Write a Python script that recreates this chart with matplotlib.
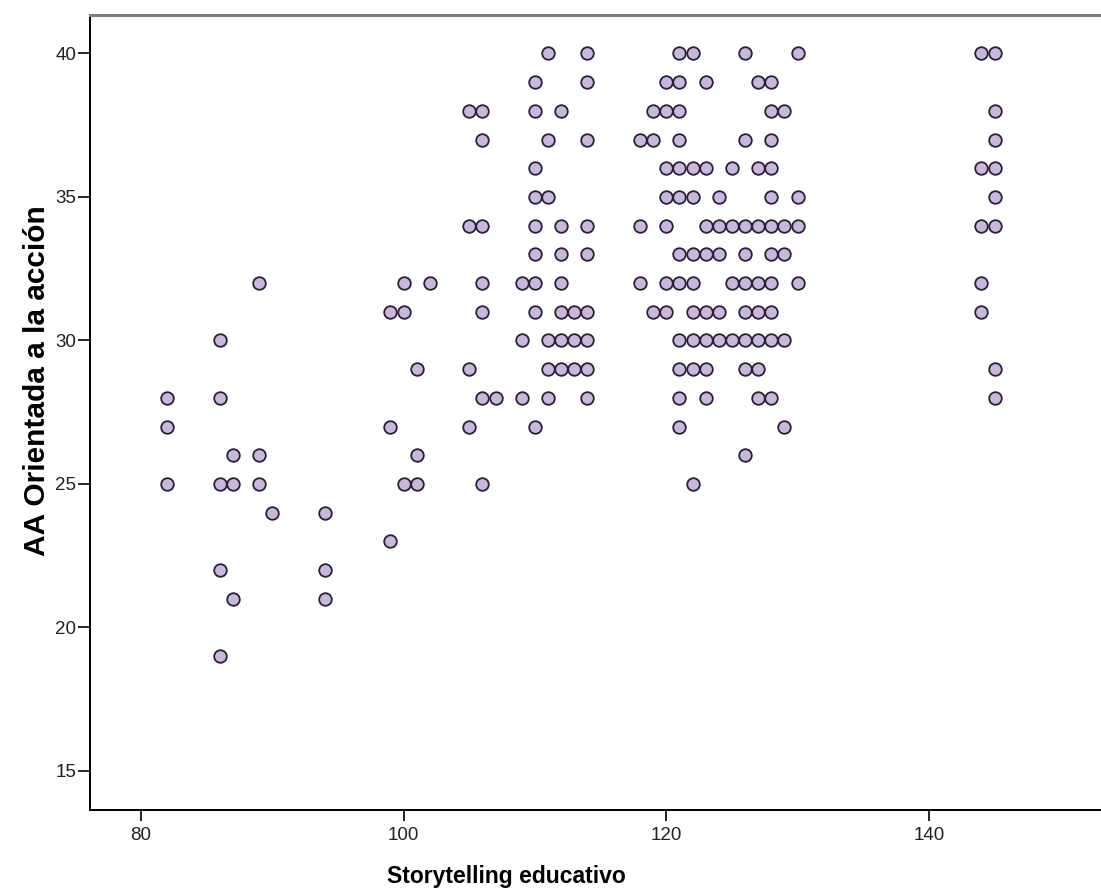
import matplotlib
matplotlib.use("Agg")
import matplotlib.pyplot as plt

# puntuaciones de storytelling para cada nivel de "orientada a la accion"
niveles = [40, 39, 38, 37, 36, 35, 34, 33, 32, 31, 30, 29, 28, 27, 26, 25, 24, 23, 22, 21, 19]

x_40 = [111, 114, 121, 122, 126, 130, 144, 145]
x_39 = [110, 114, 120, 121, 123, 127, 128]
x_38 = [105, 106, 110, 112, 119, 120, 121, 128, 129, 145]
x_37 = [106, 111, 114, 118, 119, 121, 126, 128, 145]
x_36 = [110, 120, 121, 122, 123, 125, 127, 128, 144, 145]
x_35 = [110, 111, 120, 121, 122, 124, 128, 130, 145]
x_34 = [105, 106, 110, 112, 114, 118, 120, 123, 124, 125, 126, 127, 128, 129, 130, 144, 145]
x_33 = [110, 112, 114, 121, 122, 123, 124, 126, 128, 129]
x_32 = [89, 100, 102, 106, 109, 110, 112, 118, 120, 121, 122, 125, 126, 127, 128, 130, 144]
x_31 = [99, 100, 106, 110, 112, 113, 114, 119, 120, 122, 123, 124, 126, 127, 128, 144]
x_30 = [86, 109, 111, 112, 113, 114, 121, 122, 123, 124, 125, 126, 127, 128, 129]
x_29 = [101, 105, 111, 112, 113, 114, 121, 122, 123, 126, 127, 145]
x_28 = [82, 86, 106, 107, 109, 111, 114, 121, 123, 127, 128, 145]
x_27 = [82, 99, 105, 110, 121, 129]
x_26 = [87, 89, 101, 126]
x_25 = [82, 86, 87, 89, 100, 101, 106, 122]
x_24 = [90, 94]
x_23 = [99]
x_22 = [86, 94]
x_21 = [87, 94]
x_19 = [86]

filas = [x_40, x_39, x_38, x_37, x_36, x_35, x_34, x_33, x_32, x_31, x_30,
         x_29, x_28, x_27, x_26, x_25, x_24, x_23, x_22, x_21, x_19]

xs = []
ys = []
for nivel, fila in zip(niveles, filas):
    for v in fila:
        xs.append(v)
        ys.append(nivel)

x_ticks = [80, 100, 120, 140]
y_ticks = [15, 20, 25, 30, 35, 40]

plt.rcParams['font.family'] = ['Liberation Sans', 'DejaVu Sans']

W, H = 1101, 891
fig = plt.figure(figsize=(W / 100, H / 100), dpi=100)
# ejes: izquierda 90px, abajo 810px, arriba 15px, derecha fuera de la imagen
ax = fig.add_axes([90 / W, (H - 810) / H, 1 - 90 / W, (810 - 15) / H])

ax.scatter(xs, ys, s=82, facecolor='#c9b8db', edgecolor='#2a1f36', linewidth=1.3, zorder=3)

ax.set_xlim(76.12, 153.1)
ax.set_ylim(13.64, 41.34)
ax.set_xticks(x_ticks)
ax.set_yticks(y_ticks)
ax.tick_params(direction='out', width=1.2, colors='black', labelsize=13.5)
ax.tick_params(axis='x', length=8, pad=4)
ax.tick_params(axis='y', length=8.5, pad=1.5)
for lab in ax.get_xticklabels() + ax.get_yticklabels():
    lab.set_color('#222222')

ax.spines['right'].set_visible(False)
ax.spines['top'].set_color('#7f7f7f')
ax.spines['top'].set_linewidth(2.2)
ax.spines['left'].set_linewidth(1.4)
ax.spines['bottom'].set_linewidth(1.4)

fig.text(506 / W, 1 - 877 / H, 'Storytelling educativo', fontsize=16.5, fontweight='bold',
         ha='center', va='center')
fig.text(37 / W, 1 - 381 / H, 'AA Orientada a la acción', fontsize=21.5, fontweight='bold',
         rotation=90, ha='center', va='center')

fig.savefig('out.png', dpi=100)
